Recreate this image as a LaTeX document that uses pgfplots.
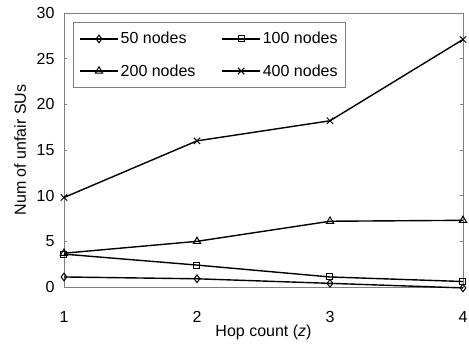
\documentclass[border=0pt]{standalone}
\usepackage{fontspec}
\setmainfont{Liberation Sans}
\usepackage{pgfplots}
\pgfplotsset{compat=1.18}
\begin{document}
\begin{tikzpicture}[x=1pt,y=1pt]
\path[use as bounding box] (-64,-62) rectangle (405,287);
\begin{axis}[
  at={(0,0)}, anchor=south west,
  scale only axis, width=399pt, height=274pt,
  xmin=1, xmax=4, ymin=0, ymax=30,
  xtick={1,2,3,4}, ytick={0,5,10,15,20,25,30},
  clip=false,
  /pgf/number format/assume math mode=true,
  tick label style={font=\fontsize{16}{19}\selectfont},
  xticklabel style={anchor=center, yshift=-30pt},
  yticklabel style={anchor=east, xshift=-6pt},
  xlabel={Hop count (\textit{z})},
  ylabel={Num of unfair SUs},
  xlabel style={font=\fontsize{16}{19}\selectfont, at={(axis description cs:0.5,-0.164)}, anchor=center},
  ylabel style={font=\fontsize{16}{19}\selectfont, at={(axis description cs:-0.11,0.5)}, anchor=center},
  axis line style={gray, line width=0.6pt},
  tick style={gray, line width=0.5pt},
  major tick length=3pt,
  xtick style={draw=none},
  legend columns=2,
  legend cell align=left,
  legend style={at={(0.0226,0.967)}, anchor=north west, draw=gray, line width=0.6pt,
    font=\fontsize{16}{19}\selectfont, inner xsep=6pt, inner ysep=8pt,
    /tikz/every even column/.append style={column sep=24pt},
    row sep=15pt},
  legend image code/.code={
    \draw[mark repeat=2,mark phase=2,#1] plot coordinates {(0pt,0pt) (19pt,0pt) (38pt,0pt)};},
  every axis plot/.append style={black, line width=1.4pt, mark options={solid, line width=1pt, fill=white}},
]
\addplot[black, mark=diamond, mark size=3.8pt] coordinates {(1,1.1) (2,0.9) (3,0.4) (4,-0.1)};
\addlegendentry{50 nodes}
\addplot[black, mark=square, mark size=3pt] coordinates {(1,3.6) (2,2.4) (3,1.1) (4,0.6)};
\addlegendentry{100 nodes}
\addplot[black, mark=triangle, mark size=4.2pt] coordinates {(1,3.7) (2,5.0) (3,7.2) (4,7.3)};
\addlegendentry{200 nodes}
\addplot[black, mark=x, mark size=4.5pt] coordinates {(1,9.8) (2,16.0) (3,18.2) (4,27.1)};
\addlegendentry{400 nodes}
\end{axis}
\end{tikzpicture}
\end{document}
